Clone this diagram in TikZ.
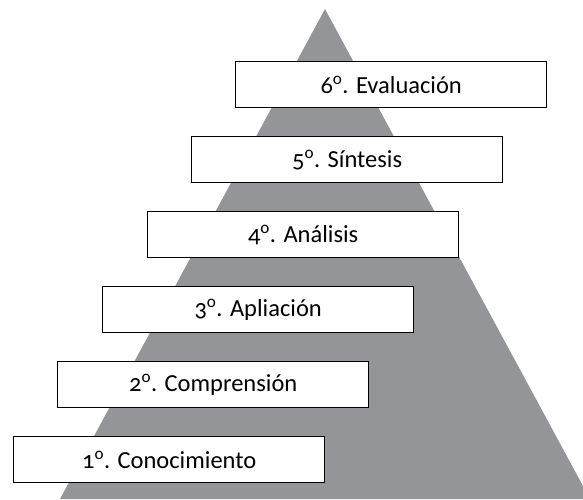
\documentclass[tikz,border=0pt]{standalone}
\usepackage{fontspec}
\setmainfont[Numbers=OldStyle]{Carlito}
\definecolor{pyrgray}{RGB}{147,149,153}
\tikzset{
  level/.style={draw=black, line width=1.4pt, fill=white, rectangle,
    minimum width=311pt, minimum height=46pt, anchor=north west,
    inner sep=0pt, font=\fontsize{24.5}{28}\selectfont}
}
\begin{document}
\begin{tikzpicture}[x=1pt,y=-1pt]
  \useasboundingbox (0,0) rectangle (583,499);
  % piramide
  \fill[pyrgray] (325,9) -- (583,486) -- (583,499) -- (60,499) -- cycle;
  % niveles
  \draw
    (13,436) node[level] (n1){1\textsuperscript{o}. Conocimiento}
    (57,361) node[level] (n2){2\textsuperscript{o}. Comprensión}
    (102,286) node[level] (n3){3\textsuperscript{o}. Apliación}
    (147,211) node[level] (n4){4\textsuperscript{o}. Análisis}
    (191,136) node[level] (n5){5\textsuperscript{o}. Síntesis}
    (235,61) node[level] (n6){6\textsuperscript{o}. Evaluación};
\end{tikzpicture}
\end{document}
